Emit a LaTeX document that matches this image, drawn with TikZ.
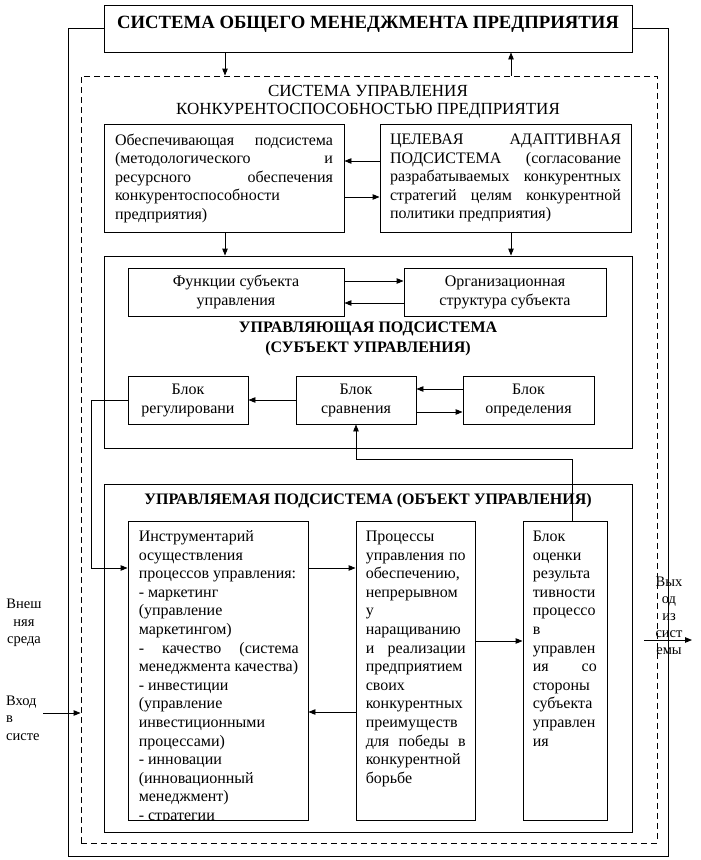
\documentclass[tikz,border=0pt]{standalone}
\usepackage{fontspec}
\setmainfont{Liberation Serif}
\usetikzlibrary{arrows.meta}
\tolerance=10000 \hbadness=10000 \hyphenpenalty=10000 \exhyphenpenalty=10000

\begin{document}
\begin{tikzpicture}[x=1pt,y=-1pt,
  blk/.style={draw,line width=.9pt,inner sep=0pt},
  arr/.style={-{Triangle[length=7pt,width=5.5pt]},line width=.9pt},
  frm/.style={line width=.9pt},
  just/.style={font=\fontsize{16}{18.5}\selectfont,align=justify},
  btxt/.style={font=\fontsize{16}{18.6}\selectfont,align=justify,inner sep=0pt,anchor=base west},
  small/.style={font=\fontsize{16}{19}\selectfont,align=center},
  side/.style={font=\fontsize{14.5}{17.5}\selectfont,inner sep=0pt}]

\useasboundingbox (0,0) rectangle (701,860);

\node[blk,font=\bfseries\fontsize{18.7}{22}\selectfont,minimum width=528pt,text height=23pt,text depth=24pt] (hdr) at (368,28.5) {СИСТЕМА ОБЩЕГО МЕНЕДЖМЕНТА ПРЕДПРИЯТИЯ};
\draw[frm] (hdr.west) -- (68,28.5) -- (68,856) -- (668,856) -- (668,28.5) -- (hdr.east);

\node[blk,dash pattern=on 6pt off 4pt,minimum width=576pt,minimum height=767pt] (ksys) at (369,459.5) {};
\node[font=\fontsize{17}{18}\selectfont,align=center] (ksysT) at (368,102) {СИСТЕМА УПРАВЛЕНИЯ\\КОНКУРЕНТОСПОСОБНОСТЬЮ ПРЕДПРИЯТИЯ};

\coordinate (colL) at (225,0);
\coordinate (colR) at (511,0);
\draw[arr] (hdr.south -| colL) -- (ksys.north -| colL);
\draw[arr] (ksys.north -| colR) -- (hdr.south -| colR);

\node[blk,just,text width=218pt,inner xsep=11pt,minimum height=108pt] (obesp) at (224,178)
  {Обеспечивающая подсистема\linebreak (методологического и\linebreak ресурсного обеспечения\linebreak конкурентоспособности\\ предприятия)};
\node[blk,just,text width=231pt,inner xsep=10pt,minimum height=108pt] (celev) at (505.5,178)
  {ЦЕЛЕВАЯ АДАПТИВНАЯ\linebreak ПОДСИСТЕМА (согласование\linebreak разрабатываемых конкурентных\linebreak стратегий целям конкурентной\linebreak политики предприятия)};
\draw[arr] ([yshift=17pt]celev.west) -- ([yshift=17pt]obesp.east);
\draw[arr] ([yshift=-19pt]obesp.east) -- ([yshift=-19pt]celev.west);

\node[blk,minimum width=528pt,minimum height=192pt] (upr) at (368,352) {};
\draw[arr] (obesp.south -| colL) -- (upr.north -| colL);
\draw[arr] (celev.south -| colR) -- (upr.north -| colR);

\node[blk,small,minimum width=216pt,minimum height=48pt] (func) at (236,292) {Функции субъекта\\управления};
\node[blk,small,minimum width=202pt,minimum height=48pt] (org) at (505,292) {Организационная\\структура субъекта};
\draw[arr] ([yshift=11pt]func.east) -- ([yshift=11pt]org.west);
\draw[arr] ([yshift=-11pt]org.west) -- ([yshift=-11pt]func.east);
\node[font=\bfseries\fontsize{16}{20}\selectfont,align=center] (uprT) at (368,339) {УПРАВЛЯЮЩАЯ ПОДСИСТЕМА\\(СУБЪЕКТ УПРАВЛЕНИЯ)};

\node[blk,small,minimum width=120pt,minimum height=48pt] (reg) at (188,400) {Блок\\регулировани};
\node[blk,small,minimum width=120pt,minimum height=48pt] (sravn) at (356,400) {Блок\\сравнения};
\node[blk,small,minimum width=131pt,minimum height=48pt] (opred) at (528.5,400) {Блок\\определения};
\draw[arr] (sravn.west) -- (reg.east);
\draw[arr] ([yshift=11pt]opred.west) -- ([yshift=11pt]sravn.east);
\draw[arr] ([yshift=-12pt]sravn.east) -- ([yshift=-12pt]opred.west);

\node[blk,minimum width=528pt,minimum height=348pt] (uprav) at (368,658) {};
\node[font=\bfseries\fontsize{16}{20}\selectfont] (upravT) at (368,501) {УПРАВЛЯЕМАЯ ПОДСИСТЕМА (ОБЪЕКТ УПРАВЛЕНИЯ)};

\node[blk,minimum width=180pt,minimum height=299pt] (instr) at (218,670.5) {};
\node[blk,minimum width=119pt,minimum height=299pt] (proc) at (415.5,670.5) {};
\node[blk,minimum width=84pt,minimum height=299pt] (ocenka) at (565,670.5) {};

\begin{scope}
  \clip (instr.north west) rectangle (instr.south east);
  \node[btxt,text width=160pt] (instrT) at ([shift={(11pt,-21pt)}]instr.north west)
    {Инструментарий\\ осуществления\\ процессов управления:\\ - маркетинг\\ (управление\\ маркетингом)\\ - качество (система\linebreak менеджмента качества)\\ - инвестиции\\ (управление\\ инвестиционными\\ процессами)\\ - инновации\\ (инновационный\\ менеджмент)\\ - стратегии};
\end{scope}
\node[btxt,text width=100pt] (procT) at ([shift={(10pt,-21pt)}]proc.north west)
  {Процессы\\ управления по\linebreak обеспечению,\\ непрерывном\\ у\\ наращиванию\\ и реализации\linebreak предприятием\\ своих\\ конкурентных\\ преимуществ\\ для победы в\linebreak конкурентной\\ борьбе};
\node[btxt,text width=64pt] (ocenkaT) at ([shift={(10pt,-21pt)}]ocenka.north west)
  {Блок\\ оценки\\ результа\\ тивности\\ процессо\\ в\\ управлен\\ ия со\linebreak стороны\\ субъекта\\ управлен\\ ия};

\draw[arr] ([yshift=102.5pt]instr.east) -- ([yshift=102.5pt]proc.west);
\draw[arr] ([yshift=29.5pt]proc.east) -- ([yshift=29.5pt]ocenka.west);
\draw[arr] ([yshift=-41.5pt]proc.west) -- ([yshift=-41.5pt]instr.east);
\draw[arr] (reg.west) -- ++(-36,0) |- ([yshift=102.5pt]instr.west);
\draw[arr] ([xshift=7pt]ocenka.north) -- ++(0,-61) -| (sravn.south);

\node[side,align=center] (vneshT) at (24,623) {Внеш\\няя\\среда};
\node[side,align=left,anchor=west] (vhodT) at (6,718) {Вход\\в\\систе};
\coordinate (vhodS) at (43,713);
\draw[arr] (vhodS) -- (vhodS -| ksys.west);

\node[side,align=center,font=\fontsize{14.5}{17}\selectfont] (vyhT) at (669,616) {Вых\\од\\из\\сист\\емы};
\coordinate (vyhS) at (644,640);
\coordinate (vyhE) at (692,640);
\draw[arr] (vyhS) -- (vyhE);
\end{tikzpicture}
\end{document}
